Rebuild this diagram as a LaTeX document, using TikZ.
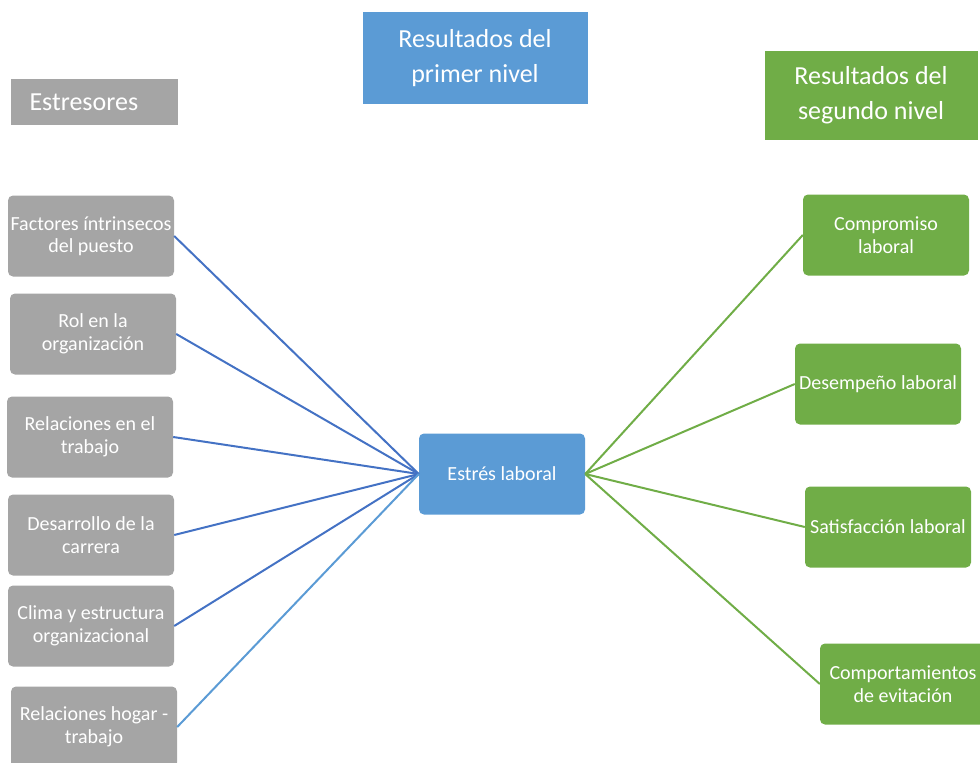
\documentclass[tikz,border=0pt]{standalone}
\usepackage{fontspec}
\setmainfont{Carlito}
\usepackage{xcolor}
\usetikzlibrary{positioning}
\definecolor{gris}{HTML}{A5A5A5}
\definecolor{azul}{HTML}{5B9BD5}
\definecolor{azulosc}{HTML}{4472C4}
\definecolor{verde}{HTML}{70AD47}

\begin{document}
\begin{tikzpicture}[x=1pt, y=-1pt, node distance = 98pt, auto]

    \tikzstyle{caja} = [
        rectangle,
        rounded corners=5pt,
        text=white,
        minimum width=166pt,
        minimum height=81pt,
        align=center,
        inner sep=1pt,
        font=\fontsize{20}{22.5}\selectfont
    ]
    \tikzstyle{estresor} = [caja, fill=gris]
    \tikzstyle{resultado} = [caja, fill=verde]
    \tikzstyle{titulo} = [
        rectangle,
        text=white,
        align=center,
        font=\fontsize{26}{35}\selectfont
    ]
    \tikzstyle{linea} = [
        draw,
        line width=2pt,
    ]

    \useasboundingbox (0,0) rectangle (980,763);

    % titulos
    \node [titulo, fill=gris, text width=129pt, align=left, inner xsep=19pt, minimum height=46pt] (tes) at (94,102) {Estresores};
    \node [titulo, fill=azul, minimum width=225pt, minimum height=92pt] (tpn) at (475,58) {Resultados del\\primer nivel};
    \node [titulo, fill=verde, minimum width=213pt, minimum height=89pt] (tsn) at (871,95) {Resultados del\\segundo nivel};

    % estresores
    \node [estresor] (fac) at (91,236) {Factores íntrinsecos\\del puesto};
    \node [estresor, below of=fac, xshift=2pt] (rol) {Rol en la\\organización};
    \node [estresor, below of=rol, node distance=103pt, xshift=-3pt] (rel) {Relaciones en el\\trabajo};
    \node [estresor, below of=rel, xshift=1pt] (des) {Desarrollo de la\\carrera};
    \node [estresor, below of=des, node distance=91pt] (cli) {Clima y estructura\\organizacional};
    \node [estresor, below of=cli, node distance=101pt, xshift=3pt] (hog) {Relaciones hogar -\\trabajo};

    % centro
    \node [caja, fill=azul] (est) at (502,474) {Estrés laboral};

    % resultados
    \node [resultado] (com) at (886,235) {Compromiso\\laboral};
    \node [resultado, below of=com, node distance=149pt, xshift=-8pt] (dse) {Desempeño laboral};
    \node [resultado, below of=dse, node distance=143pt, xshift=10pt] (sat) {Satisfacción laboral};
    \node [resultado, below of=sat, node distance=157pt, xshift=15pt] (cev) {Comportamientos\\de evitación};

    \path [linea, draw=azulosc] (fac.east) -- (est.west);
    \path [linea, draw=azulosc] (rol.east) -- (est.west);
    \path [linea, draw=azulosc] (rel.east) -- (est.west);
    \path [linea, draw=azulosc] (des.east) -- (est.west);
    \path [linea, draw=azulosc] (cli.east) -- (est.west);
    \path [linea, draw=azul] (hog.east) -- (est.west);

    \path [linea, draw=verde] (est.east) -- (com.west);
    \path [linea, draw=verde] (est.east) -- (dse.west);
    \path [linea, draw=verde] (est.east) -- (sat.west);
    \path [linea, draw=verde] (est.east) -- (cev.west);

\end{tikzpicture}
\end{document}
